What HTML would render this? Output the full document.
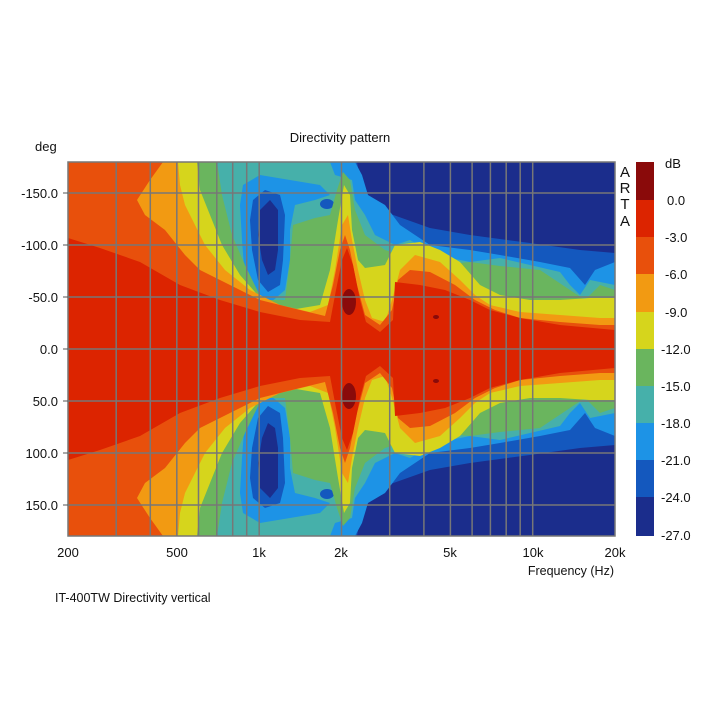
<!DOCTYPE html>
<html><head><meta charset="utf-8"><style>
body{margin:0;background:#fff;}
svg{display:block;font-family:"Liberation Sans",Arial,sans-serif;}
</style></head><body>
<svg width="720" height="720" viewBox="0 0 720 720" xmlns="http://www.w3.org/2000/svg">
<defs>
<clipPath id="pc"><rect x="68" y="162" width="547" height="374"/></clipPath>
<g id="half">
<rect x="68" y="162" width="547" height="188" fill="#1b2d8c"/>
<polygon fill="#1458be" points="68,162 357,162 362,190 385,212 430,228 470,235 530,243 580,250 615,253 615,350 68,350"/>
<polygon fill="#1d93e6" points="68,162 355,162 362,175 368,195 385,205 400,225 430,245 470,250 500,255 540,262 570,268 585,285 595,270 615,262 615,350 68,350"/>
<polygon fill="#46b0aa" points="68,162 330,162 335,175 352,180 355,200 365,215 375,235 395,245 410,240 435,255 470,262 500,258 530,265 560,272 570,285 580,295 590,280 615,285 615,350 68,350"/>
<polygon fill="#1d93e6" points="243,185 260,175 290,180 320,185 330,195 315,200 295,205 290,230 290,260 285,290 270,303 255,300 245,280 242,240 240,205"/>
<polygon fill="#1458be" points="253,200 265,190 280,195 285,215 283,260 280,285 268,292 258,280 252,250 250,220"/>
<polygon fill="#1b2d8c" points="260,210 270,200 278,210 278,250 275,270 268,275 262,260 258,235"/>
<ellipse cx="327" cy="204" rx="7" ry="5" fill="#1458be"/>
<polygon fill="#6ab55e" points="68,162 217,162 222,195 232,235 245,265 262,300 285,300 290,260 293,225 315,218 330,215 337,190 343,172 350,180 355,210 365,235 385,250 410,258 440,265 470,262 500,266 540,270 570,290 585,300 600,285 615,290 615,350 68,350"/>
<polygon fill="#d6d51c" points="68,162 197,162 200,190 210,215 222,245 240,275 262,300 290,310 320,305 330,270 338,220 344,185 350,195 352,230 358,260 365,268 385,265 395,245 420,242 440,250 460,262 480,285 500,295 530,300 560,300 590,298 615,298 615,350 68,350"/>
<polygon fill="#f29a12" points="68,162 178,162 180,185 185,205 195,225 205,245 225,270 250,290 280,305 310,312 328,305 335,270 342,225 348,215 352,240 358,270 365,300 372,318 385,322 392,300 400,270 415,255 440,262 460,280 475,295 490,305 520,312 560,315 600,318 615,318 615,350 68,350"/>
<polygon fill="#e8500c" points="68,162 163,162 150,180 137,200 145,215 165,230 185,255 200,270 230,285 260,300 300,310 325,316 333,285 340,250 345,235 350,250 357,285 365,315 380,325 392,310 398,280 410,270 430,272 455,285 475,300 495,310 520,318 560,322 600,325 615,325 615,350 68,350"/>
<polygon fill="#dc2400" points="68,238 100,248 140,262 180,285 220,300 260,312 300,320 330,322 336,290 342,260 347,248 353,265 360,300 366,322 380,332 393,320 395,282 420,285 445,290 470,300 490,310 520,318 560,325 615,330 615,350 68,350"/>
<ellipse cx="349" cy="302" rx="7" ry="13" fill="#8a0a0a"/>
<ellipse cx="436" cy="317" rx="3" ry="2" fill="#8a0a0a"/>
</g>
</defs>
<g clip-path="url(#pc)">
<use href="#half"/>
<use href="#half" transform="translate(0,698) scale(1,-1)"/>
<g stroke="#777" stroke-width="1.5">
<line x1="116.2" y1="162" x2="116.2" y2="536"/><line x1="150.3" y1="162" x2="150.3" y2="536"/>
<line x1="176.8" y1="162" x2="176.8" y2="536"/><line x1="198.5" y1="162" x2="198.5" y2="536"/>
<line x1="216.8" y1="162" x2="216.8" y2="536"/><line x1="232.7" y1="162" x2="232.7" y2="536"/>
<line x1="246.7" y1="162" x2="246.7" y2="536"/><line x1="259.2" y1="162" x2="259.2" y2="536"/>
<line x1="341.5" y1="162" x2="341.5" y2="536"/><line x1="389.7" y1="162" x2="389.7" y2="536"/>
<line x1="423.9" y1="162" x2="423.9" y2="536"/><line x1="450.4" y1="162" x2="450.4" y2="536"/>
<line x1="472.1" y1="162" x2="472.1" y2="536"/><line x1="490.4" y1="162" x2="490.4" y2="536"/>
<line x1="506.2" y1="162" x2="506.2" y2="536"/><line x1="520.2" y1="162" x2="520.2" y2="536"/>
<line x1="532.7" y1="162" x2="532.7" y2="536"/>
<line x1="68" y1="193" x2="615" y2="193"/><line x1="68" y1="245" x2="615" y2="245"/>
<line x1="68" y1="297" x2="615" y2="297"/><line x1="68" y1="349" x2="615" y2="349"/>
<line x1="68" y1="401" x2="615" y2="401"/><line x1="68" y1="453" x2="615" y2="453"/>
<line x1="68" y1="505" x2="615" y2="505"/>
</g>
</g>
<rect x="68" y="162" width="547" height="374" fill="none" stroke="#777" stroke-width="1.5"/>
<g stroke="#555" stroke-width="1">
<line x1="63" y1="193" x2="68" y2="193"/><line x1="63" y1="245" x2="68" y2="245"/><line x1="63" y1="297" x2="68" y2="297"/><line x1="63" y1="349" x2="68" y2="349"/><line x1="63" y1="401" x2="68" y2="401"/><line x1="63" y1="453" x2="68" y2="453"/><line x1="63" y1="505" x2="68" y2="505"/>
</g>
<g font-size="13" fill="#111">
<text x="340" y="142" text-anchor="middle">Directivity pattern</text>
<text x="35" y="151">deg</text>
<g text-anchor="end">
<text x="58" y="198">-150.0</text><text x="58" y="250">-100.0</text><text x="58" y="302">-50.0</text>
<text x="58" y="354">0.0</text><text x="58" y="406">50.0</text><text x="58" y="458">100.0</text><text x="58" y="510">150.0</text>
</g>
<g text-anchor="middle">
<text x="68" y="557">200</text><text x="177" y="557">500</text><text x="259" y="557">1k</text>
<text x="341" y="557">2k</text><text x="450" y="557">5k</text><text x="533" y="557">10k</text><text x="615" y="557">20k</text>
</g>
<text x="614" y="575" text-anchor="end" font-size="12.5">Frequency (Hz)</text>
<text x="55" y="602" font-size="12.5">IT-400TW Directivity vertical</text>
<g font-size="15" text-anchor="middle"><text x="625" y="177">A</text><text x="625" y="193">R</text><text x="625" y="209">T</text><text x="625" y="226">A</text></g>
</g>
<g>
<rect x="636" y="162" width="18" height="38" fill="#8a0a0a"/>
<rect x="636" y="200" width="18" height="37" fill="#dc2400"/>
<rect x="636" y="237" width="18" height="37" fill="#e8500c"/>
<rect x="636" y="274" width="18" height="38" fill="#f29a12"/>
<rect x="636" y="312" width="18" height="37" fill="#d6d51c"/>
<rect x="636" y="349" width="18" height="37" fill="#6ab55e"/>
<rect x="636" y="386" width="18" height="37" fill="#46b0aa"/>
<rect x="636" y="423" width="18" height="37" fill="#1d93e6"/>
<rect x="636" y="460" width="18" height="37" fill="#1458be"/>
<rect x="636" y="497" width="18" height="39" fill="#1b2d8c"/>
</g>
<g font-size="13" fill="#111">
<text x="665" y="168">dB</text>
<text x="667" y="205">0.0</text><text x="665" y="242">-3.0</text><text x="665" y="279">-6.0</text>
<text x="665" y="317">-9.0</text><text x="661" y="354">-12.0</text><text x="661" y="391">-15.0</text>
<text x="661" y="428">-18.0</text><text x="661" y="465">-21.0</text><text x="661" y="502">-24.0</text><text x="661" y="540">-27.0</text>
</g>
</svg>
</body></html>
